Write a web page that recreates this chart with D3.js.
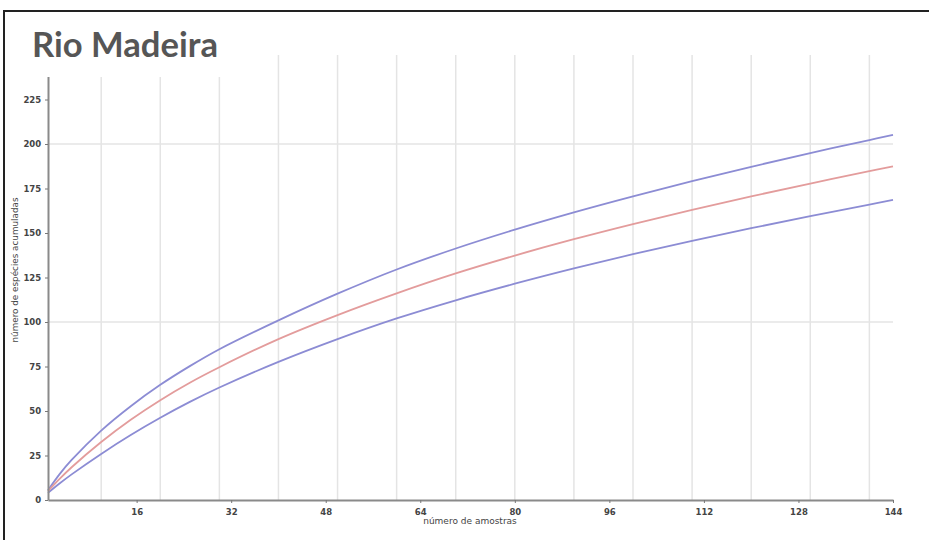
<!DOCTYPE html>
<html><head><meta charset="utf-8">
<script src="https://cdn.jsdelivr.net/npm/d3@7"></script>
<style>body{margin:0;background:#fff}svg{display:block}</style>
</head><body>
<svg id="c" width="929" height="540"></svg>
<script>
const title = "Rio Madeira";
const xLabel = "número de amostras";
const yLabel = "número de espécies acumuladas";
const samples = [1, 3, 5, 10, 15, 20, 25, 30, 40, 50, 60, 70, 80, 90, 100, 110, 120, 130, 140, 144];
const meanSeries  = [5, 12, 18.4, 32.6, 45.1, 56.1, 65.9, 74.6, 90.4, 103.9, 116.1, 127.3, 137.3, 146.5, 155.0, 163.0, 170.6, 177.8, 184.7, 187.4];
const upperSeries = [5.5, 14.7, 22.5, 39, 52.7, 64.7, 75.2, 84.7, 100.9, 115.9, 129.5, 141.3, 151.9, 161.6, 170.6, 179.1, 187.2, 194.9, 202.2, 205.1];
const lowerSeries = [4, 9.4, 14.4, 25.9, 36.5, 46.2, 55.1, 63.2, 77.6, 90.4, 102, 112.2, 121.5, 130.1, 138.1, 145.6, 152.7, 159.5, 166, 168.6];
const xTicks = [16, 32, 48, 64, 80, 96, 112, 128, 144];
const yTicks = [0, 25, 50, 75, 100, 125, 150, 175, 200, 225];
const xGrid = [10, 20, 30, 40, 50, 60, 70, 80, 90, 100, 110, 120, 130, 140];
const yGrid = [100, 200];

const svg = d3.select("#c");
const x = d3.scaleLinear().domain([1, 144]).range([48, 893]);
const y = d3.scaleLinear().domain([0, 250]).range([500, 55]);

// grid
svg.append("g").selectAll("line").data(xGrid).join("line")
  .attr("x1", d => x(d)).attr("x2", d => x(d))
  .attr("y1", y(250)).attr("y2", y(0))
  .attr("stroke", "#e4e4e4").attr("stroke-width", 1.5);
svg.append("g").selectAll("line").data(yGrid).join("line")
  .attr("x1", x(1)).attr("x2", x(144))
  .attr("y1", d => y(d)).attr("y2", d => y(d))
  .attr("stroke", "#e4e4e4").attr("stroke-width", 1.5);

// curves
const line = d3.line().x((d, i) => x(samples[i])).y(d => y(d)).curve(d3.curveCatmullRom.alpha(0.5));
[[upperSeries, "#8c8cd4"], [lowerSeries, "#8c8cd4"], [meanSeries, "#e39c9c"]].forEach(([s, c]) => {
  svg.append("path").datum(s).attr("d", line).attr("fill", "none")
    .attr("stroke", c).attr("stroke-width", 1.8);
});

// axes
const xAxis = svg.append("g").attr("transform", `translate(0,${y(0)})`)
  .call(d3.axisBottom(x).tickValues(xTicks).tickSize(3).tickSizeOuter(0));
const yAxis = svg.append("g").attr("transform", `translate(${x(1)},0)`)
  .call(d3.axisLeft(y).tickValues(yTicks).tickSize(3).tickSizeOuter(0));
[xAxis, yAxis].forEach(g => {
  g.select(".domain").attr("stroke", "#8a8a8a").attr("stroke-width", 2);
  g.selectAll(".tick line").attr("stroke", "#777");
  g.selectAll("text").attr("font-family", "DejaVu Sans").attr("font-size", 8.5)
    .attr("font-weight", "bold").attr("fill", "#444");
});
xAxis.selectAll("text").attr("dy", "1.1em");
yAxis.selectAll("text").attr("dx", "-0.1em");

// axis titles
svg.append("text").attr("x", 470).attr("y", 524).attr("text-anchor", "middle")
  .attr("font-family", "DejaVu Sans").attr("font-size", 9).attr("fill", "#444").text(xLabel);
svg.append("text").attr("transform", "translate(18,270) rotate(-90)").attr("text-anchor", "middle")
  .attr("font-family", "DejaVu Sans").attr("font-size", 8.8).attr("fill", "#444").text(yLabel);

// title box
svg.append("rect").attr("x", 5).attr("y", 12).attr("width", 220).attr("height", 65).attr("fill", "#fff");
svg.append("text").attr("x", 32).attr("y", 57).attr("font-family", "Lato").attr("font-weight", "bold")
  .attr("font-size", 34).attr("fill", "#565656")
  .attr("textLength", 186).attr("lengthAdjust", "spacingAndGlyphs").text(title);

// frame
svg.append("rect").attr("x", 4).attr("y", 11).attr("width", 940).attr("height", 540)
  .attr("fill", "none").attr("stroke", "#222").attr("stroke-width", 2);
</script>
</body></html>
